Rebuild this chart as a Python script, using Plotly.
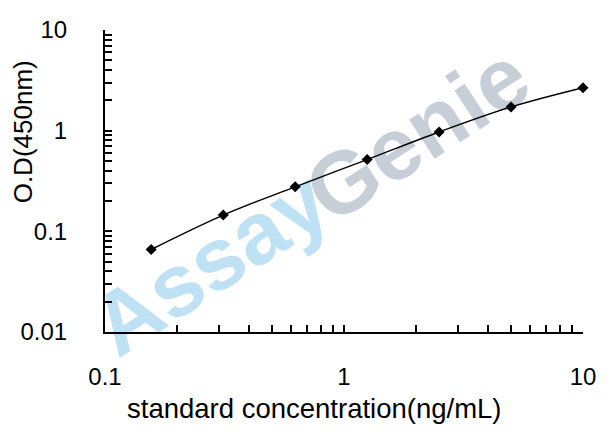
import plotly.graph_objects as go

# Data
concentration = [0.156, 0.3125, 0.625, 1.25, 2.5, 5, 10]
od450 = [0.066, 0.145, 0.277, 0.516, 0.97, 1.72, 2.67]

x_major = [0.1, 1, 10]
x_major_text = ["0.1", "1", "10"]
y_major = [0.01, 0.1, 1, 10]
y_major_text = ["0.01", "0.1", "1", "10"]
minor_mult = [2, 3, 4, 5, 6, 7, 8, 9]

x_title = "standard concentration(ng/mL)"
y_title = "O.D(450nm)"
wm_part1 = "Assay"
wm_part2 = "Genie"

def tick_lists(majors, labels):
    vals, texts = [], []
    for i, m in enumerate(majors):
        vals.append(m)
        texts.append(labels[i])
        if i < len(majors) - 1:
            for k in minor_mult:
                vals.append(m * k)
                texts.append("")
    return vals, texts

xv, xt = tick_lists(x_major, x_major_text)
yv, yt = tick_lists(y_major, y_major_text)

W, H = 608, 433
ml, mr, mt, mb = 105, 23, 30, 101
pw, ph = W - ml - mr, H - mt - mb

def px2paper(px, py):
    return (px - ml) / pw, (H - mb - py) / ph

fig = go.Figure()
fig.add_trace(go.Scatter(
    x=concentration, y=od450, mode="lines+markers",
    line=dict(color="black", width=1.4, shape="spline"),
    marker=dict(symbol="diamond", size=8.5, color="black"),
    showlegend=False, cliponaxis=False,
))

font = "Liberation Sans, Arial, sans-serif"
axis_common = dict(
    type="log", showline=True, linecolor="black", linewidth=2,
    ticks="inside", ticklen=7, tickwidth=1.5, tickcolor="black",
    showgrid=False, zeroline=False, mirror=False,
    tickfont=dict(family=font, size=24, color="black"),
)
fig.update_xaxes(range=[-1, 1], tickmode="array", tickvals=xv, ticktext=xt,
                 ticklabelstandoff=22, **axis_common)
fig.update_yaxes(range=[-2, 1], tickmode="array", tickvals=yv, ticktext=yt,
                 ticklabelstandoff=31, **axis_common)

# Watermark as shape labels below the traces
for text, (cx, cy), col in [(wm_part1, (206, 256), "#bfe1f4"),
                            (wm_part2, (414, 127), "#c7ced8")]:
    x0, y0 = px2paper(cx - 2, cy + 2)
    x1, y1 = px2paper(cx + 2, cy - 2)
    fig.add_shape(type="rect", xref="paper", yref="paper",
                  x0=x0, y0=y0, x1=x1, y1=y1, layer="below",
                  line=dict(width=0), fillcolor="rgba(0,0,0,0)",
                  label=dict(text=text, textangle=-33, textposition="middle center",
                             font=dict(family=font, size=88, color=col, weight="bold")))

ax, ay = px2paper(315, 408)
fig.add_annotation(text=x_title, xref="paper", yref="paper", x=ax, y=ay,
                   showarrow=False, xanchor="center", yanchor="middle",
                   font=dict(family=font, size=27.5, color="black"))
bx, by = px2paper(23, 132)
fig.add_annotation(text=y_title, xref="paper", yref="paper", x=bx, y=by,
                   showarrow=False, xanchor="center", yanchor="middle", textangle=-90,
                   font=dict(family=font, size=26, color="black"))

fig.update_layout(width=W, height=H, margin=dict(l=ml, r=mr, t=mt, b=mb),
                  plot_bgcolor="white", paper_bgcolor="white")
fig.write_html("out.html", config={"displayModeBar": False},
               post_script="document.body.style.margin='0';document.body.style.padding='0';")
